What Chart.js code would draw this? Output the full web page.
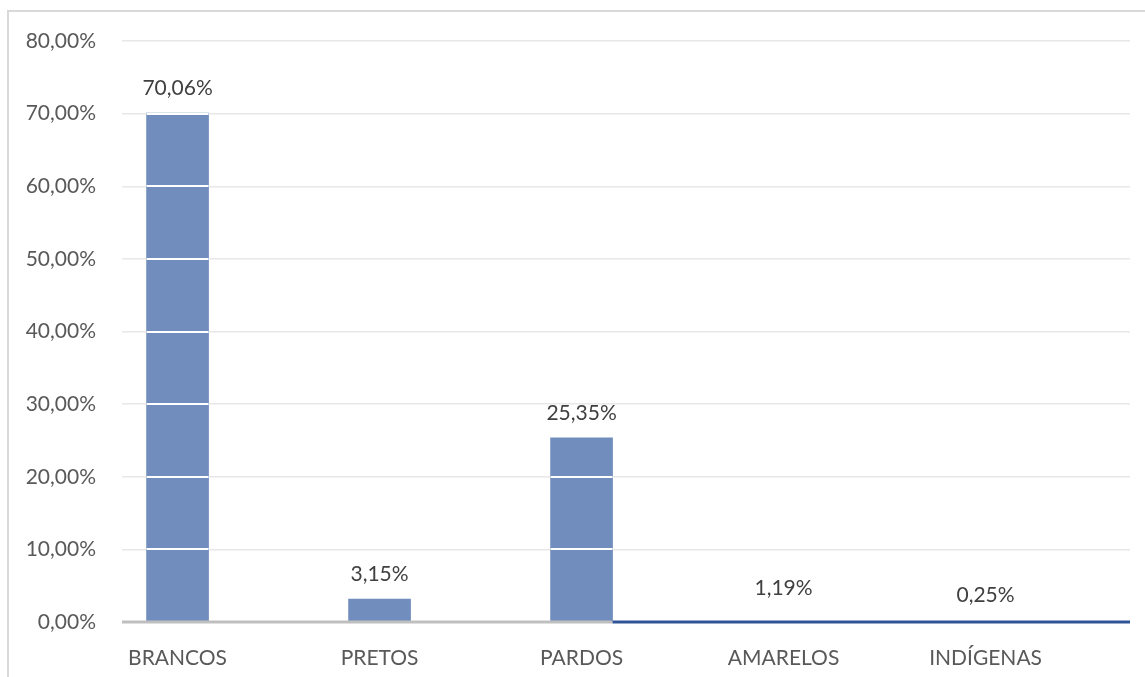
<!DOCTYPE html>
<html lang="pt-BR">
<head>
<meta charset="utf-8">
<title>Distribuição por cor/raça</title>
<script src="https://cdn.jsdelivr.net/npm/chart.js@4/dist/chart.umd.min.js"></script>
<style>
  html, body { margin: 0; padding: 0; background: #fff; overflow: hidden; }
  #wrap { position: relative; width: 1145px; height: 677px; }
  #frame { position: absolute; left: 7px; top: 10px; width: 1200px; height: 800px; border: 2px solid #d9d9d9; }
  #grafico { position: absolute; left: 0; top: 0; }
</style>
</head>
<body>
<div id="wrap">
  <div id="frame"></div>
  <canvas id="grafico" width="1145" height="677"></canvas>
</div>
<script>
// categorias e percentuais
const categorias = ['BRANCOS', 'PRETOS', 'PARDOS', 'AMARELOS', 'INDÍGENAS'];
const percentuais = [70.06, 3.15, 25.35, 1.19, 0.25];
const eixoY = { min: 0, max: 80, passo: 10 };

const AZUL = '#718dbd';
const AZUL_ESCURO = '#2f5597';
const CINZA = '#bfbfbf';
const FONTE = 'Lato, "Open Sans", sans-serif';

function formatarPct(v) {
    return v.toFixed(2).replace('.', ',') + '%';
}

// barras só aparecem para as três primeiras categorias
function corBarra(ctx) {
    return ctx.dataIndex < 3 ? AZUL : 'rgba(0,0,0,0)';
}

// linhas de grade brancas por cima das barras, linha base e rótulos de valor
const sobreposicao = {
    id: 'sobreposicao',
    afterDraw(chart) {
        const ctx = chart.ctx;
        const area = chart.chartArea;
        const y = chart.scales.y;
        const barras = chart.getDatasetMeta(0).data;
        const base = y.getPixelForValue(0);

        ctx.save();
        ctx.strokeStyle = '#ffffff';
        ctx.lineWidth = 2;
        barras.forEach((b, i) => {
            if (i >= 3) return;
            const meia = b.width / 2;
            y.ticks.forEach(t => {
                if (t.value <= 0 || t.value >= percentuais[i]) return;
                const py = Math.round(y.getPixelForValue(t.value));
                ctx.beginPath();
                ctx.moveTo(b.x - meia, py);
                ctx.lineTo(b.x + meia, py);
                ctx.stroke();
            });
        });

        // linha base: cinza até o fim da terceira barra, azul depois
        const corte = barras[2].x + barras[2].width / 2;
        ctx.lineWidth = 3;
        ctx.strokeStyle = CINZA;
        ctx.beginPath();
        ctx.moveTo(area.left, base);
        ctx.lineTo(corte, base);
        ctx.stroke();
        ctx.strokeStyle = AZUL_ESCURO;
        ctx.beginPath();
        ctx.moveTo(corte, base);
        ctx.lineTo(area.right, base);
        ctx.stroke();

        ctx.fillStyle = '#404040';
        ctx.font = '21px ' + FONTE;
        ctx.textAlign = 'center';
        ctx.textBaseline = 'middle';
        barras.forEach((b, i) => {
            ctx.fillText(formatarPct(percentuais[i]), b.x, b.y - 25);
        });
        ctx.restore();
    }
};

new Chart(document.getElementById('grafico'), {
    type: 'bar',
    data: {
        datasets: [{
            data: percentuais.map((v, i) => ({ x: i, y: v })),
            backgroundColor: corBarra,
            borderWidth: 0,
            barThickness: 62
        }]
    },
    options: {
        responsive: false,
        animation: false,
        devicePixelRatio: 1,
        layout: { padding: { left: 0, right: 15, top: 41, bottom: 0 } },
        plugins: {
            legend: { display: false },
            tooltip: { enabled: false }
        },
        scales: {
            x: {
                type: 'linear',
                offset: false,
                min: -0.275,
                max: 4.715,
                afterBuildTicks: s => {
                    s.ticks = categorias.map((_, i) => ({ value: i }));
                },
                afterFit: s => { s.height = 55; },
                grid: { display: false, drawTicks: false },
                border: { display: false },
                ticks: {
                    padding: 24,
                    color: '#595959',
                    font: { family: FONTE, size: 21 },
                    callback: v => categorias[v]
                }
            },
            y: {
                min: eixoY.min,
                max: eixoY.max,
                afterFit: s => { s.width = 122; },
                grid: { color: '#e8e8e8', lineWidth: 1.5, drawTicks: false },
                border: { display: false },
                ticks: {
                    stepSize: eixoY.passo,
                    padding: 26,
                    color: '#595959',
                    font: { family: FONTE, size: 21 },
                    callback: v => formatarPct(v)
                }
            }
        }
    },
    plugins: [sobreposicao]
});
</script>
</body>
</html>
